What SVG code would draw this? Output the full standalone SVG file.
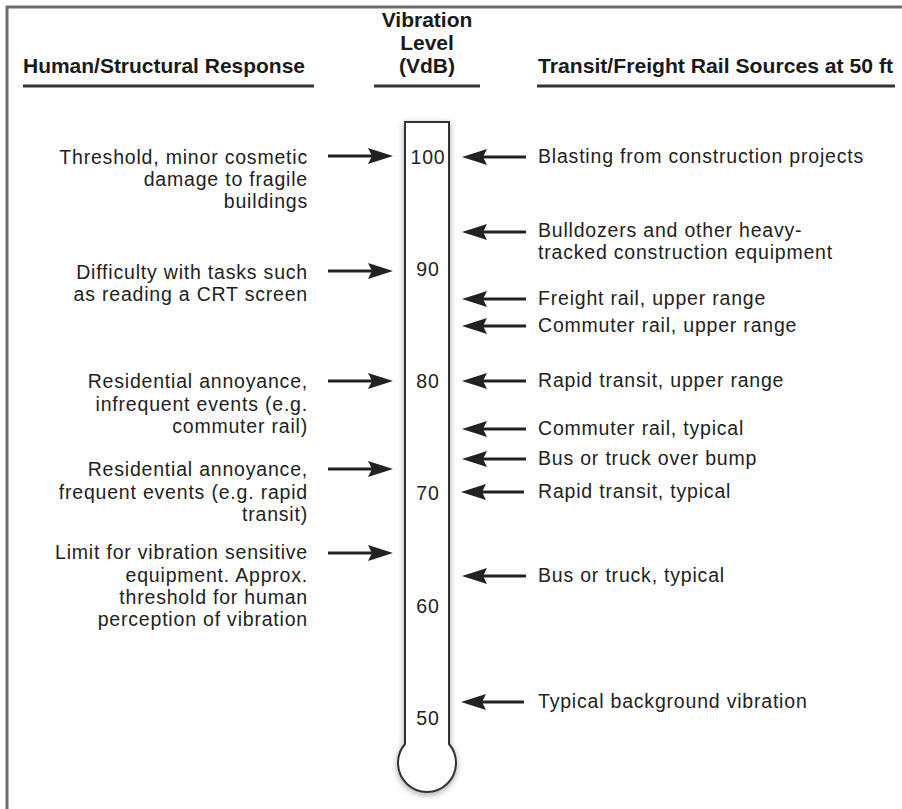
<svg xmlns="http://www.w3.org/2000/svg" width="902" height="809" viewBox="0 0 902 809">
<style>
  .hdr { font-family: "Liberation Sans", Arial, Helvetica, sans-serif; font-weight: bold; font-size: 21px; fill: #1a1a1a; }
  .txt { font-family: "Liberation Sans", Arial, Helvetica, sans-serif; font-size: 19.5px; letter-spacing: 0.8px; fill: #222; }
  .lt { text-anchor: end; }
  .num { text-anchor: middle; }
  .ul { stroke: #333; stroke-width: 3; }
  .arr { stroke: #222; stroke-width: 2.8; fill: none; marker-end: url(#ah); }
</style>
<defs>
  <marker id="ah" markerUnits="userSpaceOnUse" markerWidth="25" markerHeight="16" refX="12" refY="8" orient="auto" viewBox="0 0 25 16">
    <path d="M0,0 L25,8 L0,16 L4,8 Z" fill="#222"/>
  </marker>
  <filter id="sh" x="-50%" y="-10%" width="200%" height="120%">
    <feDropShadow dx="0" dy="2" stdDeviation="3" flood-color="#000" flood-opacity="0.35"/>
  </filter>
</defs>
<rect x="0" y="0" width="902" height="809" fill="#fff"/>
<path d="M7,809 V7 H902" fill="none" stroke="#6e6e6e" stroke-width="3"/>

<g id="headers">
  <text class="hdr" x="23" y="73" textLength="282" lengthAdjust="spacingAndGlyphs">Human/Structural Response</text>
  <line class="ul" x1="23" y1="86" x2="314" y2="86"/>
  <text class="hdr" x="427" y="27" text-anchor="middle">Vibration</text>
  <text class="hdr" x="427" y="50" text-anchor="middle">Level</text>
  <text class="hdr" x="427" y="73" text-anchor="middle">(VdB)</text>
  <line class="ul" x1="374" y1="86" x2="480" y2="86"/>
  <text class="hdr" x="538" y="73" textLength="355" lengthAdjust="spacingAndGlyphs">Transit/Freight Rail Sources at 50 ft</text>
  <line class="ul" x1="537" y1="86" x2="895" y2="86"/>
</g>

<g id="thermometer">
  <path d="M405,744 V122 H449 V744 A29,29 0 1 1 405,744 Z" fill="#fff" stroke="#333" stroke-width="2" filter="url(#sh)"/>
  <text class="txt num" x="428" y="164">100</text>
  <text class="txt num" x="428" y="276">90</text>
  <text class="txt num" x="428" y="388">80</text>
  <text class="txt num" x="428" y="500">70</text>
  <text class="txt num" x="428" y="613">60</text>
  <text class="txt num" x="428" y="725">50</text>
</g>

<g id="connectors">
  <line class="arr" x1="328" y1="156" x2="380" y2="156"/>
  <line class="arr" x1="328" y1="271" x2="380" y2="271"/>
  <line class="arr" x1="328" y1="381" x2="380" y2="381"/>
  <line class="arr" x1="328" y1="469" x2="380" y2="469"/>
  <line class="arr" x1="328" y1="553" x2="380" y2="553"/>
  <line class="arr" x1="526" y1="157" x2="475" y2="157"/>
  <line class="arr" x1="526" y1="232" x2="475" y2="232"/>
  <line class="arr" x1="526" y1="299" x2="475" y2="299"/>
  <line class="arr" x1="526" y1="326" x2="475" y2="326"/>
  <line class="arr" x1="526" y1="381" x2="475" y2="381"/>
  <line class="arr" x1="526" y1="429" x2="475" y2="429"/>
  <line class="arr" x1="526" y1="459" x2="475" y2="459"/>
  <line class="arr" x1="524" y1="492" x2="474" y2="492"/>
  <line class="arr" x1="526" y1="576" x2="475" y2="576"/>
  <line class="arr" x1="524" y1="702" x2="474" y2="702"/>
</g>

<g id="resp-100">
  <text class="txt lt" x="308" y="164">Threshold, minor cosmetic</text>
  <text class="txt lt" x="308" y="186">damage to fragile</text>
  <text class="txt lt" x="308" y="208">buildings</text>
</g>
<g id="resp-90">
  <text class="txt lt" x="308" y="279">Difficulty with tasks such</text>
  <text class="txt lt" x="308" y="301">as reading a CRT screen</text>
</g>
<g id="resp-80">
  <text class="txt lt" x="308" y="388">Residential annoyance,</text>
  <text class="txt lt" x="308" y="411">infrequent events (e.g.</text>
  <text class="txt lt" x="308" y="433">commuter rail)</text>
</g>
<g id="resp-72">
  <text class="txt lt" x="308" y="476">Residential annoyance,</text>
  <text class="txt lt" x="308" y="499">frequent events (e.g. rapid</text>
  <text class="txt lt" x="308" y="521">transit)</text>
</g>
<g id="resp-65">
  <text class="txt lt" x="308" y="559">Limit for vibration sensitive</text>
  <text class="txt lt" x="308" y="582">equipment. Approx.</text>
  <text class="txt lt" x="308" y="604">threshold for human</text>
  <text class="txt lt" x="308" y="626">perception of vibration</text>
</g>

<g id="src-blasting"><text class="txt" x="538" y="163">Blasting from construction projects</text></g>
<g id="src-bulldozers">
  <text class="txt" x="538" y="237">Bulldozers and other heavy-</text>
  <text class="txt" x="538" y="259">tracked construction equipment</text>
</g>
<g id="src-freight"><text class="txt" x="538" y="305">Freight rail, upper range</text></g>
<g id="src-commuter-upper"><text class="txt" x="538" y="332">Commuter rail, upper range</text></g>
<g id="src-rapid-upper"><text class="txt" x="538" y="387">Rapid transit, upper range</text></g>
<g id="src-commuter-typ"><text class="txt" x="538" y="435">Commuter rail, typical</text></g>
<g id="src-bus-bump"><text class="txt" x="538" y="465">Bus or truck over bump</text></g>
<g id="src-rapid-typ"><text class="txt" x="538" y="498">Rapid transit, typical</text></g>
<g id="src-bus-typ"><text class="txt" x="538" y="582">Bus or truck, typical</text></g>
<g id="src-background"><text class="txt" x="538" y="708">Typical background vibration</text></g>
</svg>
